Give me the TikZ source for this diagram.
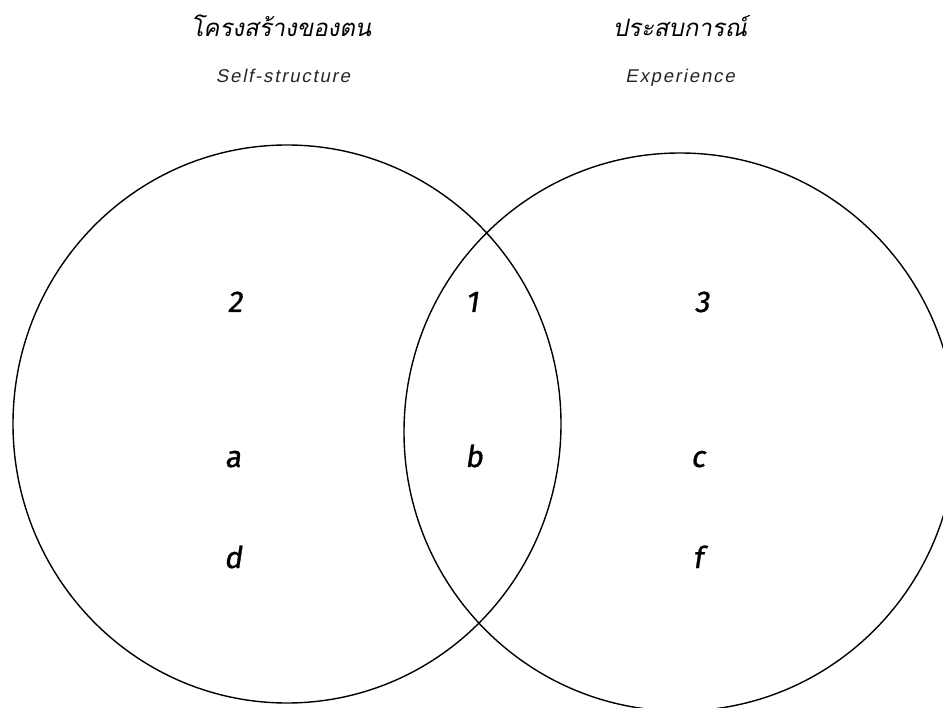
\documentclass[tikz,border=0pt]{standalone}
\usepackage{fontspec}
\setmainfont{Liberation Sans}
\usetikzlibrary{shapes.geometric}
\newfontfamily\thaifont[Script=Thai,FakeSlant=0.2]{Loma}
\newfontfamily\engfont[LetterSpace=10,FakeSlant=0.2]{Liberation Sans}
\newfontfamily\labfont[FakeSlant=0.15,FakeBold=1]{Fira Sans}
\begin{document}
\begin{tikzpicture}[x=1pt,y=-1pt,
  ring/.style={draw=black,line width=1.4pt,ellipse,inner sep=0pt,outer sep=0pt},
  thtitle/.style={anchor=base,inner sep=0pt,font=\thaifont\fontsize{24}{28}\selectfont,text=black},
  entitle/.style={anchor=base,inner sep=0pt,font=\engfont\fontsize{18.5}{22}\selectfont,text=black!85},
  lab/.style={anchor=base,inner sep=0pt,font=\labfont\fontsize{30}{34}\selectfont,text=black}]
\useasboundingbox (0,0) rectangle (943,708);
\clip (0,0) rectangle (943,708);
\fill[white] (0,0) rectangle (943,708);
\node[ring,minimum width=548pt,minimum height=558pt] (self) at (287,424) {};
\node[ring,minimum width=552pt,minimum height=558pt] (exp) at (680,432) {};
\node[thtitle] (selfth) at (281,37) {โครงสร้างของตน};
\node[thtitle] (expth) at (680,37) {ประสบการณ์};
\node[entitle] (selfen) at (283,83) {Self-structure};
\node[entitle] (expen) at (680,83) {Experience};
\node[lab] (n2) at (235,312) {2};
\node[lab] (n1) at (472,312) {1};
\node[lab] (n3) at (702,312) {3};
\node[lab] (la) at (233,467) {a};
\node[lab] (lb) at (474,467) {b};
\node[lab] (lc) at (698,467) {c};
\node[lab] (ld) at (233,568) {d};
\node[lab] (lf) at (698,568) {f};
\end{tikzpicture}
\end{document}
